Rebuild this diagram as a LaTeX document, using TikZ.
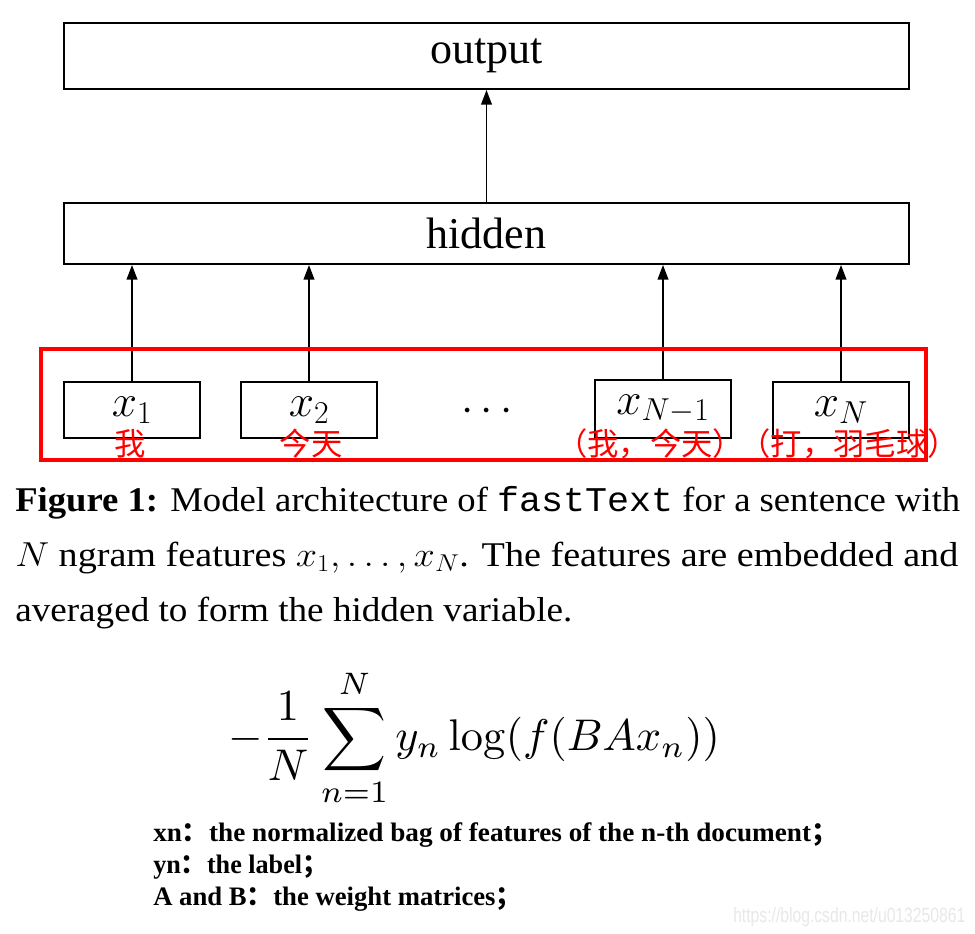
\RequirePackage{fix-cm}
\documentclass[tikz,border=0pt]{standalone}
\usepackage[no-math]{fontspec}
\usepackage{graphicx}
\setmainfont{Liberation Serif}
\setmonofont{Liberation Mono}
\newfontfamily\cjk{Noto Sans CJK SC}
\newfontfamily\wmfont{Liberation Sans}
\usetikzlibrary{arrows.meta}
\begin{document}
\begin{tikzpicture}[x=0.75pt,y=-0.75pt,
  blk/.style={draw=black,line width=1.4pt,inner sep=0pt,minimum width=845*0.75pt,font=\fontsize{33}{36}\selectfont},
  feat/.style={draw=black,line width=1.4pt,inner sep=0pt,minimum width=136*0.75pt,minimum height=56*0.75pt,font=\fontsize{34}{36}\selectfont},
  arr/.style={line width=1.3pt,-{Triangle[length=11pt,width=8pt]}},
  redlab/.style={text=red,font=\cjk\fontsize{23.5}{25}\selectfont,inner sep=0pt},
  captext/.style={anchor=base west,inner sep=0pt,font=\fontsize{26}{30}\selectfont},
  notetext/.style={anchor=base west,inner sep=0pt,font=\bfseries\fontsize{20}{22}\selectfont}]
\useasboundingbox (0,0) rectangle (975,933);
\fill[white] (0,0) rectangle (975,933);
% top boxes
\node[blk,minimum height=66*0.75pt] (output) at (486.5,56) {output};
\node[blk,minimum height=61*0.75pt] (hidden) at (486.5,233.5) {hidden};
\draw[arr] (hidden.north) -- (output.south);
% feature boxes
\node[feat] (x1) at (132,410) {$x_1$};
\node[feat] (x2) at (309,410) {$x_2$};
\node[feat,minimum height=58*0.75pt] (xn1) at (663,409) {$x_{N-1}$};
\node[feat] (xn) at (841,410) {$x_N$};
\node[font=\fontsize{33}{36}\selectfont] (dots) at (487,412) {$\cdots$};
\foreach \n in {x1,x2,xn1,xn}{
  \draw[arr] (\n.north) -- (\n.north |- hidden.south);
}
% red frame
\node[draw=red,line width=2.7pt,inner sep=0pt,minimum width=885*0.75pt,minimum height=111*0.75pt] (frame) at (483.5,404.5) {};
% red labels
\node[redlab] (l1) at (130,444) {我};
\node[redlab] (l2) at (311,444) {今天};
\node[redlab] (l3) at (650,444) {（我，今天）};
\node[redlab] (l4) at (849,444) {（打，羽毛球）};
% caption
\node[captext] (c1) at (15,511) {\resizebox{708.75pt}{\height}{\textbf{Figure 1:} Model architecture of \texttt{fastText} for a sentence with}};
\node[captext] (c2) at (15,566) {\resizebox{707.25pt}{\height}{$N$ ngram features $x_1,\ldots,x_N$. The features are embedded and}};
\node[captext] (c3) at (15,621) {\resizebox{417.75pt}{\height}{averaged to form the hidden variable.}};
% formula
\node[inner sep=0pt] (formula) at (474,738) {\resizebox{369pt}{!}{$\displaystyle -\frac{1}{N}\sum_{n=1}^{N} y_n\log(f(BAx_n))$}};
% notes
\node[notetext] (n1) at (153,841) {\resizebox{513.75pt}{\height}{xn{\cjk\bfseries ：}the normalized bag of features of the n-th document{\cjk\bfseries ；}}};
\node[notetext] (n2) at (153,873) {\resizebox{131.25pt}{\height}{yn{\cjk\bfseries ：}the label{\cjk\bfseries ；}}};
\node[notetext] (n3) at (153,905) {\resizebox{276.75pt}{\height}{A and B{\cjk\bfseries ：}the weight matrices{\cjk\bfseries ；}}};
% watermark
\node[anchor=base west,inner sep=0pt,text=black!9,font=\wmfont\fontsize{15.5}{17}\selectfont] (wm) at (733,922) {\resizebox{174pt}{\height}{https://blog.csdn.net/u013250861}};
\end{tikzpicture}
\end{document}
